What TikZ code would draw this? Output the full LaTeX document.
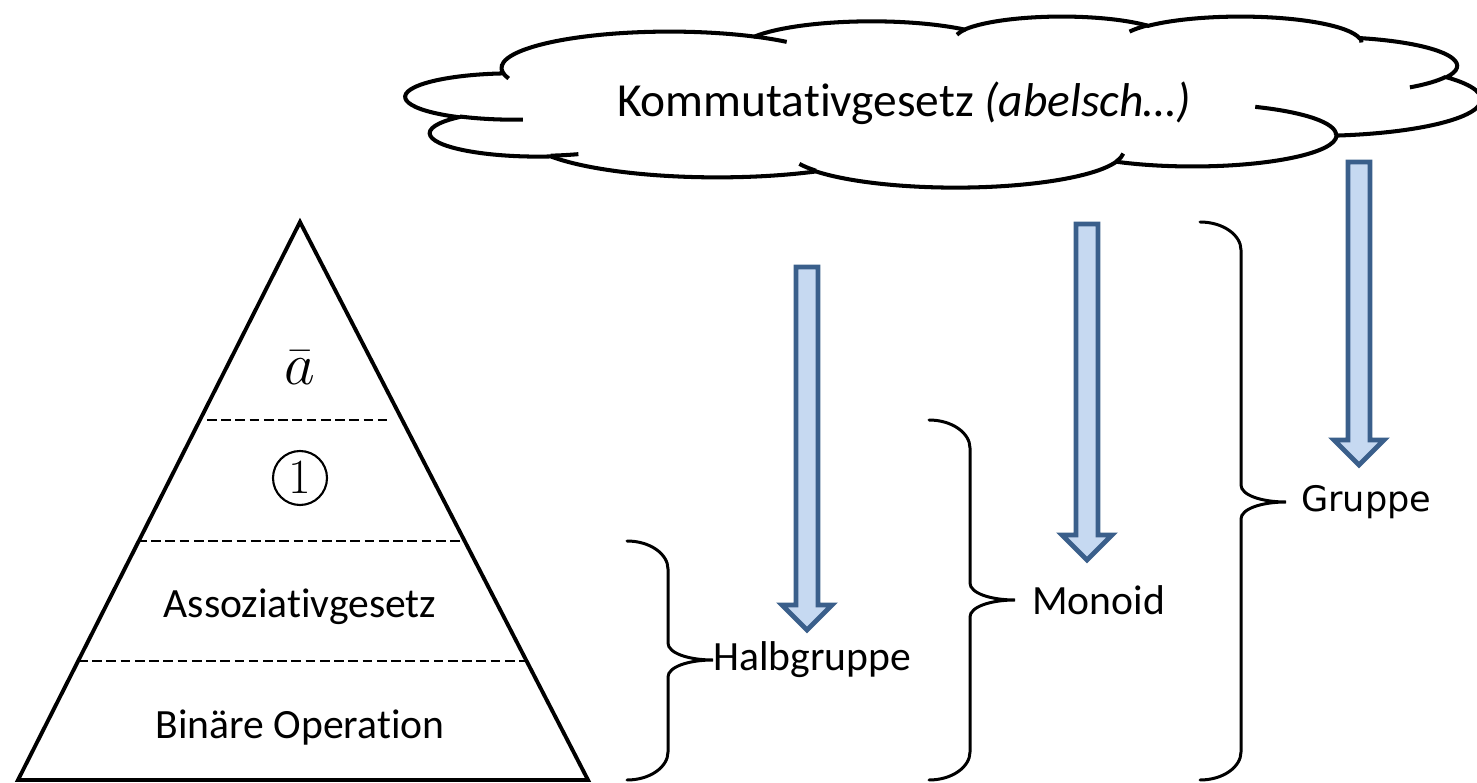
\RequirePackage{fix-cm}
\documentclass[tikz,border=0pt]{standalone}
\usepackage{fontspec}
\setmainfont{Carlito}[Ligatures=CommonOff]
\newfontfamily\dejavu{DejaVu Sans}

\definecolor{pfeilrand}{HTML}{3A5F8B}
\definecolor{pfeilfill}{HTML}{C6D9F1}

% geschweifte Klammer: x links, y oben, y Spitze, y unten
\newcommand{\klammer}[4]{%
  \draw[klammerlinie] (#1,#2) .. controls ({#1+23},#2) and ({#1+41},{#2+13}) .. ({#1+41},{#2+28})
    -- ({#1+41},{#3-17}) .. controls ({#1+41},{#3-7}) and ({#1+61},#3) .. ({#1+86},#3)
    .. controls ({#1+61},#3) and ({#1+41},{#3+7}) .. ({#1+41},{#3+17})
    -- ({#1+41},{#4-28}) .. controls ({#1+41},{#4-13}) and ({#1+23},#4) .. (#1,#4);}
% Blockpfeil nach unten: x Mitte, y oben, y Spitze
\newcommand{\blockpfeil}[3]{%
  \draw[pfeil] ({#1-11},#2) -- ({#1+11},#2) -- ({#1+11},{#3-25}) -- ({#1+25},{#3-25})
    -- (#1,#3) -- ({#1-25},{#3-25}) -- ({#1-11},{#3-25}) -- cycle;}

\begin{document}
\begin{tikzpicture}[x=0.02cm,y=-0.02cm,
  every node/.style={font=\fontsize{23.7}{28}\selectfont,inner sep=0pt},
  dreieck/.style={line width=2.2pt,line join=miter},
  trenn/.style={line width=1.4pt,dash pattern=on 5.5pt off 2.6pt},
  klammerlinie/.style={line width=1.7pt,line cap=round},
  pfeil/.style={draw=pfeilrand,fill=pfeilfill,line width=2.8pt,line join=miter},
  wolke/.style={draw,fill=white,line width=2.3pt},
  wolkeinnen/.style={draw,line width=2.3pt},
  kreis/.style={circle,draw,line width=1.2pt,minimum size=1.08cm}]

\useasboundingbox (0,0) rectangle (1477,783);

% Pyramide
\coordinate (spitze) at (300,222);
\coordinate (links) at (18,780);
\coordinate (rechts) at (588,780);
\draw[dreieck] (spitze) -- (rechts) -- (links) -- cycle;
\draw[trenn] (207,420) -- (392,420);
\draw[trenn] (137,541) -- (465,541);
\draw[trenn] (78,661) -- (525,661);

\node (inv)  at (300,368) {\fontsize{34}{38}\selectfont$\bar{a}$};
\node[kreis] (eins) at (300,478) {\fontsize{28}{32}\selectfont$1$};
\node (ass)  at (300,607) {Assoziativgesetz};
\node (bin)  at (300,728) {Binäre Operation};

% Wolke
\begin{scope}[shift={(406,16)},x=0.04977cm,y=-0.007917cm]
\draw[wolke] (39.00,143.70)
  arc[start angle=-187.75,delta angle=128.11,x radius=67.53,y radius=91.90]
  arc[start angle=-151.98,delta angle=106.48,x radius=53.33,y radius=72.67]
  arc[start angle=-153.46,delta angle=116.13,x radius=43.65,y radius=59.45]
  arc[start angle=-139.76,delta angle=129.57,x radius=48.57,y radius=65.95]
  arc[start angle=-74.80,delta angle=98.06,x radius=53.33,y radius=72.73]
  arc[start angle=-37.50,delta angle=119.37,x radius=67.75,y radius=92.20]
  arc[start angle=0.46,delta angle=121.55,x radius=57.85,y radius=78.67]
  arc[start angle=16.89,delta angle=129.27,x radius=67.52,y radius=92.15]
  arc[start angle=59.09,delta angle=91.01,x radius=77.20,y radius=105.43]
  arc[start angle=-276.71,delta angle=139.75,x radius=43.60,y radius=59.18]
  arc[start angle=-239.79,delta angle=143.94,x radius=43.45,y radius=59.45]
  -- cycle;
\draw[wolkeinnen] (46.93,261.77) arc[start angle=85.57,delta angle=34.64,x radius=43.45,y radius=59.45];
\draw[wolkeinnen] (69.28,348.99) arc[start angle=68.19,delta angle=15.10,x radius=43.60,y radius=59.18];
\draw[wolkeinnen] (164.78,390.90) arc[start angle=146.16,delta angle=12.25,x radius=67.52,y radius=92.15];
\draw[wolkeinnen] (288.27,347.51) arc[start angle=4.75,delta angle=12.14,x radius=67.52,y radius=92.15];
\draw[wolkeinnen] (341.29,229.54) arc[start angle=-64.01,delta angle=64.47,x radius=57.85,y radius=78.67];
\draw[wolkeinnen] (417.98,153.54) arc[start angle=23.26,delta angle=26.45,x radius=53.33,y radius=72.73];
\draw[wolkeinnen] (383.24,54.26) arc[start angle=-10.19,delta angle=11.01,x radius=48.57,y radius=65.95];
\draw[wolkeinnen] (290.78,39.52) arc[start angle=-156.32,delta angle=16.56,x radius=48.57,y radius=65.95];
\draw[wolkeinnen] (221.41,47.20) arc[start angle=-167.71,delta angle=13.53,x radius=43.65,y radius=59.45];
\draw[wolkeinnen] (140.00,51.92) arc[start angle=-59.64,delta angle=13.90,x radius=67.53,y radius=91.90];
\draw[wolkeinnen] (41.27,157.89) arc[start angle=163.19,delta angle=9.06,x radius=67.53,y radius=91.90];
\end{scope}
\node (komm) at (904,103) {\fontsize{27}{32}\selectfont Kommutativgesetz \textit{(abelsch…)}};

% Pfeile
\blockpfeil{807}{267}{630}
\blockpfeil{1087}{224}{560}
\blockpfeil{1359}{162}{465}

% Klammern
\klammer{627}{541}{660}{780}
\klammer{929}{420}{600}{780}
\klammer{1200}{222}{502}{780}
\coordinate (khalb) at (713,660);
\coordinate (kmono) at (1015,600);
\coordinate (kgrup) at (1286,502);

\node[anchor=west] (halb) at (khalb) {Halbgruppe};
\node[anchor=west] (mono) at ([xshift=9.6pt] kmono) {Monoid};
\node[anchor=west] (grup) at ([xshift=8.5pt] kgrup) {\fontsize{20}{24}\selectfont\dejavu Gruppe};

\end{tikzpicture}
\end{document}
